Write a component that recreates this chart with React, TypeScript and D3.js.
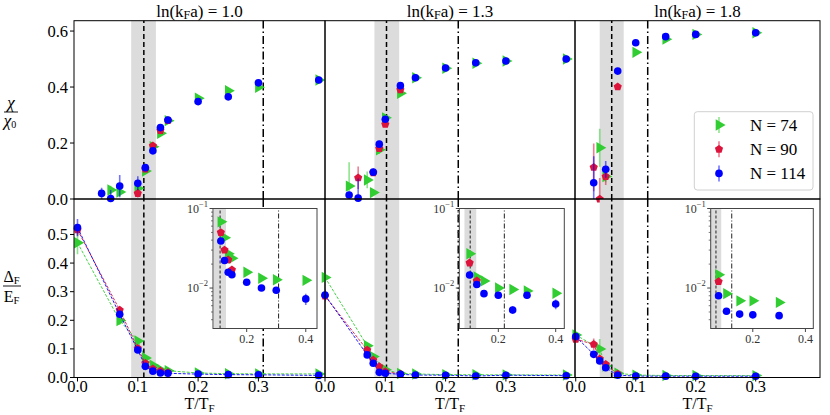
import React from "react";
import * as d3 from "d3";

const FONT = "'Liberation Serif', 'DejaVu Serif', 'Times New Roman', serif";
const GREEN = "#32cd32";
const RED = "#dc143c";
const BLUE = "#0000ff";

// panel settings
const lnKfa = ["1.0", "1.3", "1.8"];
const tcDashed = [0.11, 0.102, 0.06];
const bandLo = [0.089, 0.082, 0.04];
const bandHi = [0.13, 0.123, 0.08];
const tDashDot = [0.308, 0.221, 0.12];
const insetMinT = [0.11, 0.1, 0.06];
const sizes = [74, 90, 114];

const xTicks = [0, 0.1, 0.2, 0.3];
const chiTicks = [0, 0.2, 0.4, 0.6];
const gapTicks = [0, 0.1, 0.2, 0.3, 0.4, 0.5];
const insetXTicks = [0.2, 0.4];
const insetYMajor = [1e-2, 1e-1];
const insetYMinor = [4e-3, 5e-3, 6e-3, 7e-3, 8e-3, 9e-3, 2e-2, 3e-2, 4e-2, 5e-2, 6e-2, 7e-2, 8e-2, 9e-2];

// ln(kFa) = 1.0
const chiT_10_74 = [0.055, 0.07, 0.1, 0.1125, 0.125, 0.1375, 0.15, 0.2, 0.25, 0.3, 0.4];
const chi_10_74 = [0.032, 0.025, 0.038, 0.1, 0.187, 0.235, 0.28, 0.36, 0.387, 0.399, 0.425];
const chiErr_10_74 = [0.015, 0.015, 0.02, 0.01, 0.008, 0.006, 0.005, 0.004, 0.004, 0.004, 0.003];
const chiT_10_90 = [0.1, 0.1125, 0.125, 0.1375, 0.15];
const chi_10_90 = [0.02, 0.107, 0.19, 0.245, 0.28];
const chiErr_10_90 = [0.015, 0.01, 0.008, 0.006, 0.005];
const chiT_10_114 = [0.04, 0.055, 0.07, 0.1, 0.1125, 0.125, 0.1375, 0.15, 0.2, 0.25, 0.3, 0.4];
const chi_10_114 = [0.02, 0.002, 0.046, 0.056, 0.112, 0.172, 0.255, 0.282, 0.348, 0.365, 0.415, 0.425];
const chiErr_10_114 = [0.02, 0.03, 0.04, 0.025, 0.01, 0.008, 0.006, 0.005, 0.004, 0.004, 0.004, 0.003];

const gapT_10_74 = [0, 0.07, 0.1, 0.1125, 0.125, 0.1375, 0.15, 0.2, 0.25, 0.3, 0.4];
const gap_10_74 = [0.471, 0.199, 0.128, 0.068, 0.043, 0.027, 0.0237, 0.0158, 0.0133, 0.0127, 0.0125];
const gapErr_10_74 = [0.04, 0.015, 0.006, 0.003, 0.002, 0.0015, 0.0012, 0.001, 0.001, 0.001, 0.001];
const gapT_10_90 = [0, 0.07, 0.1, 0.1125, 0.125, 0.1375, 0.15];
const gap_10_90 = [0.516, 0.236, 0.102, 0.05, 0.03, 0.0226, 0.0169];
const gapErr_10_90 = [0.02, 0.008, 0.005, 0.003, 0.002, 0.0015, 0.0012];
const gapT_10_114 = [0, 0.07, 0.1, 0.1125, 0.125, 0.1375, 0.15, 0.2, 0.25, 0.3, 0.4];
const gap_10_114 = [0.524, 0.221, 0.096, 0.039, 0.0222, 0.0158, 0.0147, 0.0118, 0.01, 0.0094, 0.0073];
const gapErr_10_114 = [0.03, 0.01, 0.005, 0.002, 0.0015, 0.001, 0.001, 0.0008, 0.0008, 0.0008, 0.0012];

// ln(kFa) = 1.3
const chiT_13_74 = [0.04, 0.07, 0.08, 0.09, 0.1, 0.125, 0.15, 0.2, 0.25, 0.3, 0.4];
const chi_13_74 = [0.046, 0.068, 0.023, 0.176, 0.29, 0.378, 0.433, 0.467, 0.485, 0.493, 0.5];
const chiErr_13_74 = [0.085, 0.03, 0.01, 0.015, 0.01, 0.006, 0.004, 0.003, 0.003, 0.003, 0.003];
const chiT_13_90 = [0.055, 0.08, 0.09, 0.1, 0.125];
const chi_13_90 = [0.076, 0.094, 0.18, 0.267, 0.39];
const chiErr_13_90 = [0.04, 0.01, 0.01, 0.008, 0.006];
const chiT_13_114 = [0.04, 0.055, 0.08, 0.09, 0.1, 0.125, 0.15, 0.2, 0.25, 0.3, 0.4];
const chi_13_114 = [0.014, 0.003, 0.096, 0.196, 0.285, 0.405, 0.433, 0.468, 0.487, 0.493, 0.5];
const chiErr_13_114 = [0.01, 0.07, 0.012, 0.012, 0.008, 0.006, 0.004, 0.003, 0.003, 0.003, 0.003];

const gapT_13_74 = [0, 0.07, 0.08, 0.1, 0.125, 0.15, 0.2, 0.25, 0.3, 0.4];
const gap_13_74 = [0.35, 0.111, 0.073, 0.027, 0.0138, 0.0123, 0.01, 0.0096, 0.0092, 0.0086];
const gapErr_13_74 = [0.02, 0.006, 0.005, 0.002, 0.001, 0.001, 0.0008, 0.0008, 0.0008, 0.0008];
const gapT_13_90 = [0, 0.07, 0.08, 0.09, 0.1, 0.125];
const gap_13_90 = [0.285, 0.096, 0.061, 0.038, 0.0207, 0.0123];
const gapErr_13_90 = [0.02, 0.005, 0.004, 0.003, 0.0015, 0.001];
const gapT_13_114 = [0, 0.07, 0.08, 0.09, 0.1, 0.125, 0.15, 0.2, 0.25, 0.3, 0.4];
const gap_13_114 = [0.288, 0.079, 0.05, 0.018, 0.0146, 0.0111, 0.0085, 0.0081, 0.0053, 0.0081, 0.0063];
const gapErr_13_114 = [0.02, 0.005, 0.004, 0.003, 0.0012, 0.001, 0.0008, 0.0008, 0.0006, 0.0008, 0.0009];

// ln(kFa) = 1.8
const chiT_18_74 = [0.04, 0.05, 0.1, 0.15, 0.2, 0.3];
const chi_18_74 = [0.183, 0.08, 0.524, 0.571, 0.588, 0.594];
const chiErr_18_74 = [0.068, 0.02, 0.005, 0.004, 0.003, 0.003];
const chiT_18_90 = [0.03, 0.04, 0.05, 0.07];
const chi_18_90 = [0.113, 0.0, 0.08, 0.401];
const chiErr_18_90 = [0.085, 0.075, 0.03, 0.008];
const chiT_18_114 = [0.03, 0.05, 0.07, 0.1, 0.15, 0.2, 0.3];
const chi_18_114 = [0.058, 0.106, 0.457, 0.558, 0.58, 0.588, 0.594];
const chiErr_18_114 = [0.095, 0.03, 0.008, 0.005, 0.004, 0.003, 0.003];

const gapT_18_74 = [0, 0.04, 0.05, 0.07, 0.1, 0.15, 0.2, 0.3];
const gap_18_74 = [0.149, 0.1, 0.04, 0.0147, 0.0085, 0.0069, 0.0069, 0.0066];
const gapErr_18_74 = [0.01, 0.035, 0.005, 0.001, 0.0007, 0.0006, 0.0006, 0.0006];
const gapT_18_90 = [0, 0.03, 0.04, 0.05, 0.07];
const gap_18_90 = [0.134, 0.116, 0.065, 0.046, 0.0121];
const gapErr_18_90 = [0.008, 0.02, 0.006, 0.004, 0.001];
const gapT_18_114 = [0, 0.03, 0.04, 0.05, 0.07, 0.1, 0.15, 0.2, 0.3];
const gap_18_114 = [0.143, 0.081, 0.058, 0.034, 0.008, 0.0051, 0.0047, 0.0046, 0.0045];
const gapErr_18_114 = [0.012, 0.008, 0.005, 0.004, 0.0007, 0.0005, 0.0004, 0.0004, 0.0004];

type Series = { T: number[]; v: number[]; e: number[] };
const mk = (T: number[], v: number[], e: number[]): Series => ({ T, v, e });

const chiSeries: Series[][] = [
  [mk(chiT_10_74, chi_10_74, chiErr_10_74), mk(chiT_10_90, chi_10_90, chiErr_10_90), mk(chiT_10_114, chi_10_114, chiErr_10_114)],
  [mk(chiT_13_74, chi_13_74, chiErr_13_74), mk(chiT_13_90, chi_13_90, chiErr_13_90), mk(chiT_13_114, chi_13_114, chiErr_13_114)],
  [mk(chiT_18_74, chi_18_74, chiErr_18_74), mk(chiT_18_90, chi_18_90, chiErr_18_90), mk(chiT_18_114, chi_18_114, chiErr_18_114)],
];
const gapSeries: Series[][] = [
  [mk(gapT_10_74, gap_10_74, gapErr_10_74), mk(gapT_10_90, gap_10_90, gapErr_10_90), mk(gapT_10_114, gap_10_114, gapErr_10_114)],
  [mk(gapT_13_74, gap_13_74, gapErr_13_74), mk(gapT_13_90, gap_13_90, gapErr_13_90), mk(gapT_13_114, gap_13_114, gapErr_13_114)],
  [mk(gapT_18_74, gap_18_74, gapErr_18_74), mk(gapT_18_90, gap_18_90, gapErr_18_90), mk(gapT_18_114, gap_18_114, gapErr_18_114)],
];

const colors = [GREEN, RED, BLUE];

// layout (pixels)
const panelLeft = [74, 325, 575];
const panelRight = [325, 575, 820];
const xDomLo = [-0.0058, 0, -0.0012];
const xDomHi = [0.4104, 0.4146, 0.4072];
const topY0 = 20.7;
const midY = 199;
const botY = 377.5;
const chiMax = 0.637;
const gapMax = 0.624;
const insetLeft = [213, 459.3, 710.7];
const insetRight = [317, 564.3, 813.3];
const insetTop = 208.5;
const insetBottom = 328.5;
const insetXLo = [0.086, 0.064, 0.04];
const insetXHi = [0.438, 0.43, 0.43];
const insetYLo = 0.0031;
const insetYHi = 0.1;

const yChi = d3.scaleLinear().domain([0, chiMax]).range([midY, topY0]);
const yGap = d3.scaleLinear().domain([0, gapMax]).range([botY, midY]);

const triPath = d3.symbol().type(d3.symbolTriangle).size(56)() as string;

function pentagon(r: number) {
  const pts = d3.range(5).map((k) => {
    const a = -Math.PI / 2 + (k * 2 * Math.PI) / 5;
    return [r * Math.cos(a), r * Math.sin(a)] as [number, number];
  });
  return d3.line()(pts) + "Z";
}
const pentPath = pentagon(4.3);

const Marker = ({ idx, x, y }: { idx: number; x: number; y: number }) => {
  if (idx === 0)
    return <path d={triPath} transform={`translate(${x},${y}) rotate(90)`} fill={GREEN} />;
  if (idx === 1) return <path d={pentPath} transform={`translate(${x},${y})`} fill={RED} />;
  return <circle cx={x} cy={y} r={3.8} fill={BLUE} />;
};

const SeriesMarks = ({
  s, idx, x, y, clip, lines, lo,
}: {
  s: Series; idx: number; x: (t: number) => number; y: (v: number) => number;
  clip: string; lines?: boolean; lo?: number;
}) => {
  const pts = s.T.map((t, i) => ({ t, v: s.v[i], e: s.e[i] }));
  const path = d3.line<{ t: number; v: number }>().x((d) => x(d.t)).y((d) => y(d.v))(pts);
  return (
    <g>
      {lines && (
        <path d={path || ""} fill="none" stroke={colors[idx]} strokeWidth={0.9}
          strokeDasharray="3,1.5" clipPath={`url(#${clip})`} />
      )}
      <g clipPath={`url(#${clip})`}>
        {pts.map((d, i) => (
          <line key={i} x1={x(d.t)} x2={x(d.t)} y1={y(Math.max(d.v - d.e, lo ?? -1))} y2={y(d.v + d.e)}
            stroke={colors[idx]} strokeOpacity={0.55} strokeWidth={1.6} />
        ))}
      </g>
      {pts.map((d, i) => (
        <Marker key={i} idx={idx} x={x(d.t)} y={y(d.v)} />
      ))}
    </g>
  );
};

const RefLines = ({ i, x, y0, y1, thin }: { i: number; x: (t: number) => number; y0: number; y1: number; thin?: boolean }) => (
  <g>
    <rect x={x(bandLo[i])} width={x(bandHi[i]) - x(bandLo[i])} y={y1} height={y0 - y1} fill="#dcdcdc" />
    <line x1={x(tcDashed[i])} x2={x(tcDashed[i])} y1={y0} y2={y1} stroke={thin ? "#222" : "#000"}
      strokeWidth={thin ? 1 : 1.5} strokeDasharray={thin ? "3,2" : "5,3"} />
    <line x1={x(tDashDot[i])} x2={x(tDashDot[i])} y1={y0} y2={y1} stroke={thin ? "#222" : "#000"}
      strokeWidth={thin ? 1 : 1.5} strokeDasharray={thin ? "5,2,1,2" : "8,3,1.5,3"} />
  </g>
);

const App = () => {
  return (
    <svg width={830} height={415}
      style={{ position: "absolute", left: 0, top: 0, background: "#fff", fontFamily: FONT }}>
      <defs>
        {lnKfa.map((_, i) => (
          <React.Fragment key={i}>
            <clipPath id={`top${i}`}>
              <rect x={panelLeft[i]} y={topY0} width={panelRight[i] - panelLeft[i]} height={midY - topY0} />
            </clipPath>
            <clipPath id={`bot${i}`}>
              <rect x={panelLeft[i]} y={midY} width={panelRight[i] - panelLeft[i]} height={botY - midY} />
            </clipPath>
            <clipPath id={`ins${i}`}>
              <rect x={insetLeft[i]} y={insetTop} width={insetRight[i] - insetLeft[i]} height={insetBottom - insetTop} />
            </clipPath>
          </React.Fragment>
        ))}
      </defs>

      {lnKfa.map((lab, i) => {
        const x = d3.scaleLinear().domain([xDomLo[i], xDomHi[i]]).range([panelLeft[i], panelRight[i]]);
        const xi = d3.scaleLinear().domain([insetXLo[i], insetXHi[i]]).range([insetLeft[i], insetRight[i]]);
        const yi = d3.scaleLog().domain([insetYLo, insetYHi]).range([insetBottom, insetTop]);
        const cx = (panelLeft[i] + panelRight[i]) / 2;
        return (
          <g key={i}>
            {/* top: susceptibility */}
            <RefLines i={i} x={x} y0={midY} y1={topY0} />
            {chiSeries[i].map((s, k) => (
              <SeriesMarks key={k} s={s} idx={k} x={x} y={yChi} clip={`top${i}`} />
            ))}
            {/* bottom: gap */}
            <RefLines i={i} x={x} y0={botY} y1={midY} />
            {gapSeries[i].map((s, k) => (
              <SeriesMarks key={k} s={s} idx={k} x={x} y={yGap} clip={`bot${i}`} lines />
            ))}

            {/* inset, log scale */}
            <rect x={insetLeft[i]} y={insetTop} width={insetRight[i] - insetLeft[i]} height={insetBottom - insetTop} fill="#fff" />
            <g clipPath={`url(#ins${i})`}>
              <RefLines i={i} x={xi} y0={insetBottom} y1={insetTop} thin />
              {gapSeries[i].map((s, k) => {
                const keep = s.T.map((t, j) => j).filter((j) => s.T[j] >= insetMinT[i]);
                const sub = mk(keep.map((j) => s.T[j]), keep.map((j) => s.v[j]), keep.map((j) => s.e[j]));
                return <SeriesMarks key={k} s={sub} idx={k} x={xi} y={yi} clip={`ins${i}`} lo={insetYLo / 2} />;
              })}
            </g>
            <rect x={insetLeft[i]} y={insetTop} width={insetRight[i] - insetLeft[i]} height={insetBottom - insetTop}
              fill="none" stroke="#444" strokeWidth={1} />
            {insetXTicks.map((t) => (
              <g key={t}>
                <line x1={xi(t)} x2={xi(t)} y1={insetBottom} y2={insetBottom + 3.5} stroke="#444" />
                <text x={xi(t)} y={insetBottom + 14} fontSize={12} textAnchor="middle" fill="#333">{t.toFixed(1)}</text>
              </g>
            ))}
            {insetYMajor.map((v) => (
              <g key={v}>
                <line x1={insetLeft[i] - 3.5} x2={insetLeft[i]} y1={yi(v)} y2={yi(v)} stroke="#444" />
                <text x={insetLeft[i] - 5} y={yi(v) + 4} fontSize={12} textAnchor="end" fill="#333">
                  10<tspan fontSize={8.5} dy={-6}>{"\u2212" + String(-Math.round(Math.log10(v)))}</tspan>
                </text>
              </g>
            ))}
            {insetYMinor.map((v) => (
              <line key={v} x1={insetLeft[i] - 2} x2={insetLeft[i]} y1={yi(v)} y2={yi(v)} stroke="#444" strokeWidth={0.7} />
            ))}

            {/* frames */}
            <rect x={panelLeft[i]} y={topY0} width={panelRight[i] - panelLeft[i]} height={midY - topY0} fill="none" stroke="#000" strokeWidth={1} />
            <rect x={panelLeft[i]} y={midY} width={panelRight[i] - panelLeft[i]} height={botY - midY} fill="none" stroke="#000" strokeWidth={1} />

            {/* x axis */}
            {xTicks.map((t) => (
              <g key={t}>
                <line x1={x(t)} x2={x(t)} y1={botY} y2={botY + 4} stroke="#000" />
                <text x={x(t)} y={botY + 14} fontSize={16.5} textAnchor="middle">{t.toFixed(1)}</text>
              </g>
            ))}
            <text x={cx} y={408.5} fontSize={16} textAnchor="middle">
              T/T<tspan fontSize={11} dy={3.5}>F</tspan>
            </text>

            {/* title */}
            <text x={cx} y={17} fontSize={17} textAnchor="middle">
              ln(k<tspan fontSize={12} dy={2}>F</tspan><tspan dy={-2}>a) = {lab}</tspan>
            </text>
          </g>
        );
      })}

      {/* y axes */}
      {chiTicks.map((v) => (
        <g key={v}>
          <line x1={panelLeft[0] - 4} x2={panelLeft[0]} y1={yChi(v)} y2={yChi(v)} stroke="#000" />
          <text x={panelLeft[0] - 6} y={yChi(v) + 5.5} fontSize={16.5} textAnchor="end">{v.toFixed(1)}</text>
        </g>
      ))}
      {gapTicks.map((v) => (
        <g key={v}>
          <line x1={panelLeft[0] - 4} x2={panelLeft[0]} y1={yGap(v)} y2={yGap(v)} stroke="#000" />
          <text x={panelLeft[0] - 6} y={yGap(v) + 5.5} fontSize={16.5} textAnchor="end">{v.toFixed(1)}</text>
        </g>
      ))}

      {/* y labels */}
      <text x={11} y={108} fontSize={17} textAnchor="middle" fontStyle="italic">χ</text>
      <line x1={4} x2={18} y1={112} y2={112} stroke="#000" strokeWidth={0.9} />
      <text x={10} y={126} fontSize={17} textAnchor="middle" fontStyle="italic">
        χ<tspan fontSize={10} dy={2} fontStyle="normal">0</tspan>
      </text>
      <text x={11.5} y={282} fontSize={16} textAnchor="middle">
        Δ<tspan fontSize={10.5} dy={2}>F</tspan>
      </text>
      <line x1={3} x2={21} y1={286} y2={286} stroke="#000" strokeWidth={0.9} />
      <text x={11.5} y={302} fontSize={16} textAnchor="middle">
        E<tspan fontSize={10.5} dy={2}>F</tspan>
      </text>

      {/* legend */}
      <rect x={694.3} y={111.7} width={118.7} height={78.3} rx={3} fill="#fff" fillOpacity={0.85} stroke="#d0d0d0" />
      {sizes.map((n, k) => {
        const ly = 125 + k * 24.2;
        return (
          <g key={n}>
            <line x1={719} x2={719} y1={ly - 8} y2={ly + 8} stroke={colors[k]} strokeOpacity={0.55} strokeWidth={1.6} />
            <Marker idx={k} x={719} y={ly} />
            <text x={750} y={ly + 6} fontSize={17}>{`N = ${n}`}</text>
          </g>
        );
      })}
    </svg>
  );
};

export default App;
